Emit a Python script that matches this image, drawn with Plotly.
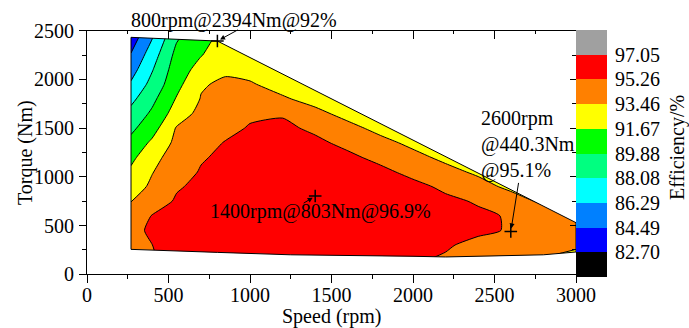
import plotly.graph_objects as go

# ---- efficiency map grid -------------------------------------------------
speed = [270, 400, 550, 700, 850, 1000, 1200, 1400, 1600, 1800, 2000, 2200, 2400, 2600, 2800, 3000]
torque = [150, 300, 450, 600, 750, 900, 1050, 1200, 1350, 1500, 1650, 1800, 1950, 2100, 2250, 2450]

# efficiency (%) per torque row, one value per speed column
eff_t150 = [94.2, 95.2, 95.5, 95.7, 95.8, 95.85, 95.85, 95.8, 95.7, 95.55, 95.4, 95.1, 94.6, 94.0, 93.4, 92.9]
eff_t300 = [94.4, 95.25, 95.6, 95.85, 96.0, 96.1, 96.15, 96.15, 96.05, 95.9, 95.65, 95.4, 94.9, 94.4, 93.9, 93.7]
eff_t450 = [94.83, 95.5, 95.85, 96.1, 96.3, 96.45, 96.55, 96.6, 96.5, 96.3, 96.0, 95.8, 95.5, 95.15, 94.5, 93.9]
eff_t600 = [94.1, 95.33, 95.8, 96.1, 96.4, 96.6, 96.75, 96.8, 96.7, 96.4, 96.1, 95.8, 95.55, 95.11, 94.4, 93.9]
eff_t750 = [93.43, 94.39, 95.45, 95.9, 96.3, 96.6, 96.85, 96.9, 96.75, 96.4, 96.0, 95.6, 95.1, 94.2, 93.15, 93.7]
eff_t900 = [92.72, 93.75, 95.1, 95.6, 96.1, 96.5, 96.8, 96.85, 96.6, 96.1, 95.7, 94.94, 94.04, 93.1, 93.0, 93.3]
eff_t1050 = [92.01, 93.4, 94.44, 95.4, 95.9, 96.3, 96.6, 96.6, 96.2, 95.65, 94.82, 93.93, 93.2, 93.1, 93.15, 93.25]
eff_t1200 = [91.22, 92.95, 94.2, 95.1, 95.6, 96.0, 96.2, 96.1, 95.6, 94.82, 93.89, 93.12, 92.9, 93.0, 93.1, 93.2]
eff_t1350 = [90.36, 92.0, 93.9, 94.6, 95.35, 95.8, 95.9, 95.6, 94.84, 93.89, 93.12, 92.8, 92.9, 93.0, 93.1, 93.2]
eff_t1500 = [89.49, 90.96, 93.6, 94.13, 94.75, 95.4, 95.6, 94.95, 93.89, 93.04, 92.7, 92.8, 92.9, 93.0, 93.1, 93.2]
eff_t1650 = [88.61, 90.18, 92.5, 94.0, 94.3, 94.95, 95.1, 93.85, 93.0, 92.5, 92.6, 92.7, 92.8, 92.9, 93.0, 93.1]
eff_t1800 = [87.63, 89.44, 91.81, 93.55, 94.0, 94.1, 93.64, 92.97, 92.3, 92.4, 92.5, 92.6, 92.8, 92.9, 93.0, 93.1]
eff_t1950 = [86.52, 88.67, 91.12, 93.3, 93.75, 93.6, 92.92, 92.3, 92.4, 92.5, 92.6, 92.8, 92.9, 93.0, 93.1, 93.2]
eff_t2100 = [85.55, 87.97, 90.8, 92.3, 93.2, 93.0, 92.7, 92.6, 92.6, 92.7, 92.8, 92.9, 93.0, 93.1, 93.2, 93.3]
eff_t2250 = [84.62, 87.24, 90.4, 91.6, 92.6, 92.5, 92.4, 92.5, 92.6, 92.7, 92.8, 92.9, 93.0, 93.1, 93.2, 93.3]
eff_t2450 = [83.4, 86.08, 89.57, 90.99, 92.2, 92.2, 92.3, 92.4, 92.5, 92.6, 92.7, 92.8, 92.9, 93.0, 93.1, 93.2]

efficiency = [eff_t150, eff_t300, eff_t450, eff_t600, eff_t750, eff_t900, eff_t1050, eff_t1200,
              eff_t1350, eff_t1500, eff_t1650, eff_t1800, eff_t1950, eff_t2100, eff_t2250, eff_t2450]

# ---- operating envelope --------------------------------------------------
top_speed = [270, 800, 3000]
top_torque = [2432, 2394, 530]
bottom_speed = [270, 800, 1250, 1600, 2000, 2200, 2536, 2800, 3000]
bottom_torque = [256, 225, 200, 192, 185, 178, 188, 200, 229]

# ---- contour levels and colours -----------------------------------------
level_labels = ["82.70", "84.49", "86.29", "88.08", "89.88", "91.67", "93.46", "95.26", "97.05"]
band_colors = ["#000000", "#0000FF", "#0080FF", "#00FFFF", "#00FF80",
               "#00FF00", "#FFFF00", "#FF8000", "#FF0000", "#A0A0A0"]

# ---- marked operating points ---------------------------------------------
point_speed = [800, 1400, 2600]
point_torque = [2394, 803, 440.3]
point_eff = [92, 96.9, 95.1]

x_range = [0, 3000]
y_range = [0, 2500]
FONT = "Liberation Serif"

# page geometry (pixels): paper spans x 87..607, y 30..277
W, H = 689, 328
ML, MR, MT, MB = 87, 82, 30, 51
PW, PH = W - ML - MR, H - MT - MB
PLOT_RIGHT = 576          # right edge of the map frame
PLOT_TOP, PLOT_BOTTOM = 30.7, 274.3


def px_x(px):
    return (px - ML) / PW


def px_y(py):
    return (H - MB - py) / PH


main_xdom = [0, px_x(PLOT_RIGHT)]
main_ydom = [px_y(PLOT_BOTTOM), px_y(PLOT_TOP)]

lv_start = float(level_labels[0])
lv_end = float(level_labels[-1])
lv_size = (lv_end - lv_start) / (len(level_labels) - 1)
tick_vals = [lv_start + k * lv_size for k in range(len(level_labels))]
n_bands = len(band_colors)
colorscale = [[k / (n_bands - 1), c] for k, c in enumerate(band_colors)]

fig = go.Figure()

fig.add_trace(go.Contour(
    x=speed, y=torque, z=efficiency,
    autocontour=False,
    contours=dict(start=lv_start, end=lv_end, size=lv_size, coloring="fill", showlines=True),
    colorscale=colorscale, showscale=False,
    line=dict(color="black", width=1, smoothing=0.6),
    hoverinfo="skip",
))

# white mask outside the operating envelope
mask_x = [x_range[0], x_range[1]] + top_speed[::-1] + bottom_speed + [x_range[1], x_range[0], x_range[0]]
mask_y = [y_range[1], y_range[1]] + top_torque[::-1] + bottom_torque + [y_range[0], y_range[0], y_range[1]]
fig.add_trace(go.Scatter(
    x=mask_x, y=mask_y, mode="lines", fill="toself",
    fillcolor="white", line=dict(width=0, color="white"),
    showlegend=False, hoverinfo="skip",
))

# envelope outline
env_x = top_speed + bottom_speed[::-1] + [top_speed[0]]
env_y = top_torque + bottom_torque[::-1] + [top_torque[0]]
fig.add_trace(go.Scatter(
    x=env_x, y=env_y, mode="lines", line=dict(color="black", width=1),
    showlegend=False, hoverinfo="skip",
))

# operating point markers
fig.add_trace(go.Scatter(
    x=point_speed, y=point_torque, mode="markers",
    marker=dict(symbol="cross-thin", size=9, line=dict(color="black", width=1.5)),
    showlegend=False, hoverinfo="skip",
))

# empty trace carrying the mirrored top/right axes
fig.add_trace(go.Scatter(x=[], y=[], xaxis="x2", yaxis="y2", showlegend=False, hoverinfo="skip"))

# discrete colour key: one cell per band, band edges one level beyond each end
band_edges = [lv_start - lv_size] + tick_vals + [lv_end + lv_size]
fig.add_trace(go.Heatmap(
    x=[0, 1], y=band_edges, z=[[k] for k in range(n_bands)],
    zmin=0, zmax=n_bands - 1, colorscale=colorscale, showscale=False,
    xaxis="x3", yaxis="y3", hoverinfo="skip",
))

labels = [f"{s}rpm@{t:g}Nm@{e:g}%" for s, t, e in zip(point_speed, point_torque, point_eff)]
label_font = dict(family=FONT, size=20, color="black")
title_font = dict(family=FONT, size=20, color="black")
arrow_common = dict(showarrow=True, arrowhead=2, arrowsize=1, arrowwidth=1,
                    arrowcolor="black", standoff=3, text="", xref="x", yref="y")

# third label is stacked on three lines
stacked = "<br>@".join(labels[2].split("@"))

annotations = [
    dict(text=labels[0], xref="paper", yref="paper", x=px_x(234), y=px_y(21),
         xanchor="center", yanchor="middle", showarrow=False, font=label_font),
    dict(x=point_speed[0], y=point_torque[0], ax=22, ay=-12, **arrow_common),
    dict(text=labels[1], xref="x", yref="y", x=1435, y=642,
         xanchor="center", yanchor="middle", showarrow=False, font=label_font),
    dict(x=point_speed[1], y=point_torque[1], ax=-13, ay=8, **arrow_common),
    dict(text=stacked, xref="x", yref="y", x=2403, y=1337, xanchor="left", yanchor="middle",
         align="left", showarrow=False, font=label_font),
    dict(x=point_speed[2], y=point_torque[2], ax=8, ay=-50, **arrow_common),
    dict(text="Efficiency/%", xref="paper", yref="paper", x=px_x(677), y=px_y(148),
         xanchor="center", yanchor="middle", textangle=-90, showarrow=False, font=title_font),
    dict(text="Speed (rpm)", xref="paper", yref="paper", x=px_x(331), y=px_y(316),
         xanchor="center", yanchor="middle", showarrow=False, font=title_font),
    dict(text="Torque (Nm)", xref="paper", yref="paper", x=px_x(25), y=px_y(153),
         xanchor="center", yanchor="middle", textangle=-90, showarrow=False, font=title_font),
]

# level labels beside the colour key
for val, txt in zip(tick_vals, level_labels):
    annotations.append(dict(text=txt, xref="paper", yref="y3", x=px_x(613), y=val,
                            xanchor="left", yanchor="middle", showarrow=False, font=label_font))

axis_common = dict(showgrid=False, zeroline=False, showline=True, linecolor="black",
                   linewidth=1, tickcolor="black", tickwidth=1, automargin=False,
                   tickfont=dict(family=FONT, size=20, color="black"))

fig.update_layout(
    width=W, height=H,
    margin=dict(l=ML, r=MR, t=MT, b=MB, autoexpand=False),
    paper_bgcolor="white", plot_bgcolor="white",
    showlegend=False,
    font=dict(family=FONT, color="black"),
    xaxis=dict(domain=main_xdom, range=x_range, ticks="outside", ticklen=8, dtick=500, tick0=0,
               ticklabelstandoff=-5,
               minor=dict(dtick=250, ticklen=4, ticks="outside", tickcolor="black"),
               **axis_common),
    yaxis=dict(domain=main_ydom, range=y_range, ticks="outside", ticklen=7, dtick=500, tick0=0,
               ticklabelstandoff=1,
               minor=dict(dtick=250, ticklen=4, ticks="outside", tickcolor="black"),
               **axis_common),
    xaxis2=dict(domain=main_xdom, range=x_range, overlaying="x", side="top", anchor="y2",
                ticks="inside", ticklen=8, dtick=500, tick0=0, showticklabels=False,
                minor=dict(dtick=250, ticklen=3, ticks="inside", tickcolor="black"),
                **axis_common),
    yaxis2=dict(domain=main_ydom, range=y_range, overlaying="y", side="right", anchor="x2",
                ticks="inside", ticklen=6, dtick=500, tick0=0, showticklabels=False,
                minor=dict(dtick=250, ticklen=4, ticks="inside", tickcolor="black"),
                **axis_common),
    xaxis3=dict(domain=[main_xdom[1], 1], range=[0, 1], visible=False, fixedrange=True),
    yaxis3=dict(domain=[0, 1], range=[band_edges[0], band_edges[-1]], anchor="x3", side="right",
                showticklabels=False, ticks="", showgrid=False, zeroline=False,
                showline=False, automargin=False, fixedrange=True),
    annotations=annotations,
)

fig.write_html("out.html")
